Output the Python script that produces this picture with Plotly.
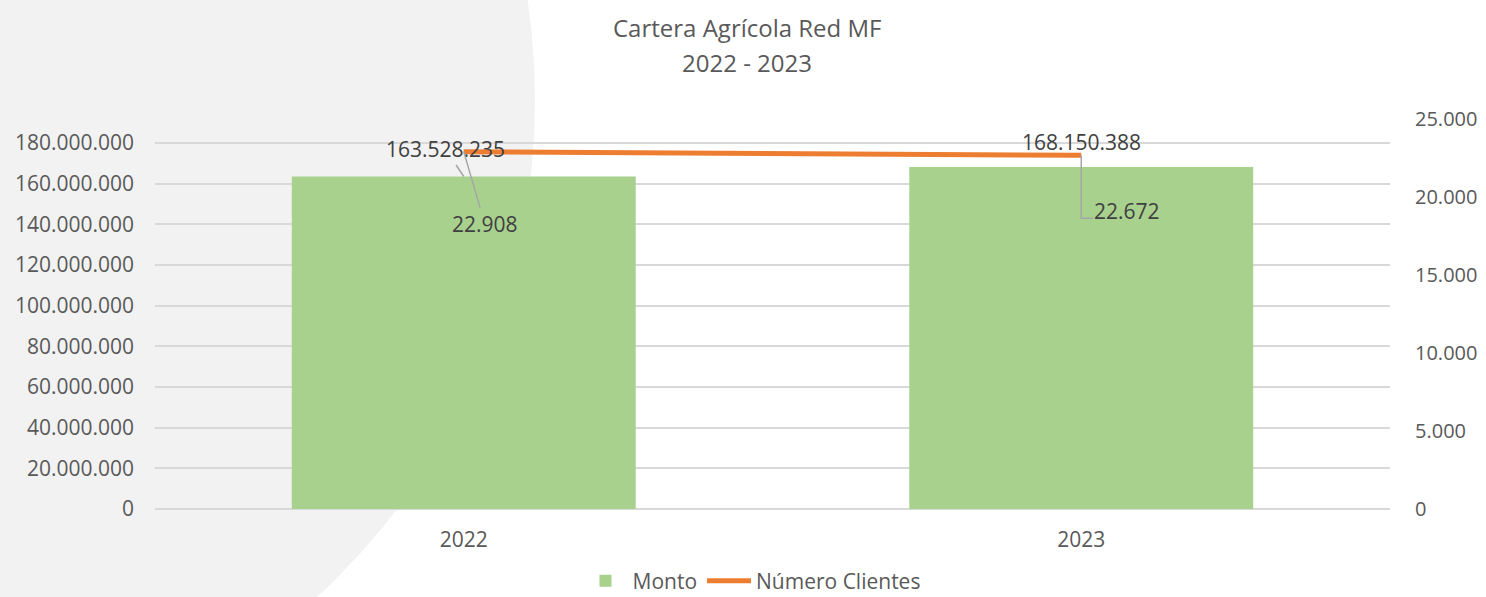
import plotly.graph_objects as go

# ---- data ----
years = ["2022", "2023"]
monto = [163528235, 168150388]
clientes = [22908, 22672]
left_ticks = [0, 20000000, 40000000, 60000000, 80000000, 100000000,
              120000000, 140000000, 160000000, 180000000]
right_ticks = [0, 5000, 10000, 15000, 20000, 25000]
title_lines = ["Cartera Agrícola Red MF", "2022 - 2023"]


def fmt(v):
    return f"{v:,}".replace(",", ".")


FONT = "Open Sans"
GREY_TXT = "#595959"
LBL_TXT = "#404040"
W, H = 1486, 597
L, R, T, B = 155, 96, 119, 88
PW, PH = W - L - R, H - T - B


def px_x(px):
    return (px - L) / PW


def px_y(py):
    return (H - B - py) / PH


fig = go.Figure()
fig.add_trace(go.Bar(
    x=years, y=monto, name="Monto", marker=dict(color="#A9D18E", line=dict(width=0)),
    yaxis="y",
))
fig.add_trace(go.Scatter(
    x=years, y=clientes, name="Número Clientes", mode="lines",
    line=dict(color="#ED7D31", width=5), yaxis="y2",
))

left_max = 180000000 * 390 / 366

lblfont = dict(family=FONT, size=21, color=LBL_TXT)
annotations = [
    dict(x=0, y=monto[0], xref="x", yref="y", text=fmt(monto[0]),
         showarrow=True, ax=-18, ay=-27, arrowhead=0, arrowwidth=1.5,
         arrowcolor="#A6A6A6", standoff=0, font=lblfont),
    dict(x=1, y=monto[1], xref="x", yref="y", text=fmt(monto[1]),
         showarrow=False, yshift=25, font=lblfont),
    dict(x=0, y=clientes[0], xref="x", yref="y2", text=fmt(clientes[0]),
         showarrow=True, ax=21, ay=72, arrowhead=0, arrowwidth=1.5,
         arrowcolor="#A6A6A6", standoff=0, font=lblfont),
    dict(x=1, y=clientes[1], xref="x", yref="y2", text=fmt(clientes[1]),
         showarrow=True, ax=46, ay=56, arrowcolor="rgba(0,0,0,0)", font=lblfont),
]
for line, py in zip(title_lines, [28, 62]):
    annotations.append(dict(x=px_x(747), y=px_y(py), xref="paper", yref="paper",
                            text=line, showarrow=False, xanchor="center", yanchor="middle",
                            font=dict(family=FONT, size=24, color=GREY_TXT)))

shapes = [
    dict(type="circle", xref="paper", yref="paper", layer="below",
         x0=px_x(-816), x1=px_x(535), y0=px_y(775.5), y1=px_y(-575.5),
         fillcolor="#F2F2F2", line=dict(width=0)),
    dict(type="path", xref="x", yref="y2", xsizemode="pixel", ysizemode="pixel",
         xanchor=1, yanchor=clientes[1], path="M0,0 V-63 H12",
         line=dict(color="#A6A6A6", width=1.5)),
]

fig.update_layout(
    width=W, height=H, autosize=False,
    margin=dict(l=L, r=R, t=T, b=B, pad=0, autoexpand=False),
    paper_bgcolor="white", plot_bgcolor="rgba(0,0,0,0)",
    separators=",.",
    font=dict(family=FONT, color=GREY_TXT),
    bargap=0.443,
    xaxis=dict(type="category", range=[-0.5, 1.5], showgrid=False, showline=False,
               zeroline=False, tickfont=dict(family=FONT, size=21, color=GREY_TXT),
               ticks="", ticklabelstandoff=16),
    yaxis=dict(range=[0, left_max], tickvals=left_ticks,
               ticktext=[fmt(v) for v in left_ticks],
               showgrid=True, gridcolor="#D9D9D9", gridwidth=1.5,
               zeroline=True, zerolinecolor="#D9D9D9", zerolinewidth=1.5,
               showline=False, ticks="", ticklabelstandoff=20,
               tickfont=dict(family=FONT, size=21, color=GREY_TXT)),
    yaxis2=dict(range=[0, 25000], tickvals=right_ticks,
                ticktext=[fmt(v) for v in right_ticks],
                overlaying="y", side="right", showgrid=False, zeroline=False,
                showline=False, ticks="", ticklabelstandoff=24,
                tickfont=dict(family=FONT, size=20, color=GREY_TXT)),
    legend=dict(orientation="h", x=px_x(752), xanchor="center", y=px_y(581),
                yanchor="middle",
                font=dict(family=FONT, size=21, color=GREY_TXT),
                bgcolor="rgba(0,0,0,0)", itemwidth=44, tracegroupgap=0),
    annotations=annotations,
    shapes=shapes,
    showlegend=True,
)

fig.write_html("out.html", config=dict(displayModeBar=False),
               post_script="document.body.style.margin='0';document.body.style.overflow='hidden';")
